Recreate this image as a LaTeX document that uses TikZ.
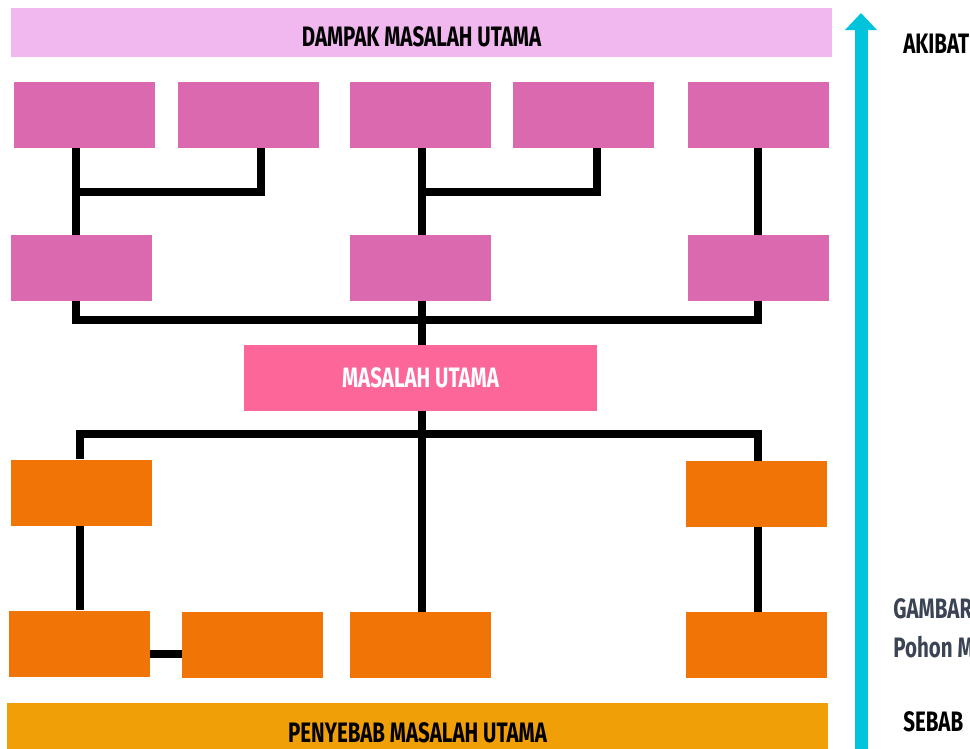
\documentclass[tikz,border=0pt]{standalone}
\usepackage{fontspec}
\setmainfont{Fira Sans}[FakeStretch=0.73]
\usetikzlibrary{arrows.meta}
\definecolor{dampakpink}{HTML}{F0B8EE}
\definecolor{akibatpink}{HTML}{DB69B0}
\definecolor{masalahpink}{HTML}{FD6699}
\definecolor{sebaboranye}{HTML}{F07406}
\definecolor{penyebabkuning}{HTML}{F0A006}
\definecolor{panahcyan}{HTML}{00C4DC}
\definecolor{teksabu}{HTML}{3B4455}
\tikzset{
  kotak/.style = {inner sep=0pt, minimum width=2.82cm, minimum height=1.32cm},
  akibat/.style = {kotak, fill=akibatpink},
  sebab/.style = {kotak, fill=sebaboranye},
  pita/.style = {inner sep=0pt, minimum width=16.42cm, font=\fontsize{16}{19}\selectfont\bfseries},
  link/.style = {line width=0.16cm},
  label/.style = {anchor=west, inner sep=0pt, font=\fontsize{16}{19}\selectfont\bfseries}
}

\begin{document}
\begin{tikzpicture}[x=0.02cm, y=-0.02cm]
\useasboundingbox (0,0) rectangle (970,748);
% pita atas dan bawah
\node [pita, fill=dampakpink, minimum height=0.98cm, text height=0.54cm, text depth=0pt] (dampak) at (421.5,32.5) {DAMPAK MASALAH UTAMA};
\node [pita, fill=penyebabkuning, minimum height=1.2cm, text depth=0pt] (penyebab) at (417.5,733) {PENYEBAB MASALAH UTAMA};
% akibat
\node [akibat] (a1) at (84.5,115) {};
\node [akibat] (a2) at (248.5,115) {};
\node [akibat] (a3) at (420.5,115) {};
\node [akibat] (a4) at (583.5,115) {};
\node [akibat] (a5) at (758.5,115) {};
\node [akibat] (b1) at (81.5,268) {};
\node [akibat] (b2) at (420.5,268) {};
\node [akibat] (b3) at (758.5,268) {};
% masalah utama
\node [kotak, fill=masalahpink, minimum width=7.06cm, text=white, text depth=0pt, font=\fontsize{16}{19}\selectfont\bfseries] (m) at (420.5,378) {MASALAH UTAMA};
% sebab
\node [sebab] (c1) at (81.5,492.5) {};
\node [sebab] (c2) at (756.5,494) {};
\node [sebab] (d1) at (79.5,643.5) {};
\node [sebab] (d2) at (252.5,645) {};
\node [sebab] (d3) at (420.5,645) {};
\node [sebab] (d4) at (756.5,645) {};
% titik sambungan
\coordinate (ka) at (76,192);
\coordinate (kb) at (261,192);
\coordinate (kc) at (422,192);
\coordinate (kd) at (597,192);
\coordinate (ke) at (422,320);
\coordinate (kf) at (80,434);
\coordinate (kg) at (758,434);
\coordinate (kh) at (166,654);
\draw [link] (a1.south -| ka) -- (b1.north -| ka);
\draw [link] (ka) -- (kb) -- (a2.south -| kb);
\draw [link] (a3.south -| kc) -- (b2.north -| kc);
\draw [link] (kc) -- (kd) -- (a4.south -| kd);
\draw [link] (a5.south -| kg) -- (b3.north -| kg);
\draw [link] (b1.south -| ka) |- (ke) -| (b3.south -| kg);
\draw [link] (b2.south -| ke) -- (m.north -| ke);
\draw [link] (m.south -| ke) -- (d3.north -| ke);
\draw [link] (c1.north -| kf) |- (kg) -- (c2.north -| kg);
\draw [link] (c1.south -| kf) -- (d1.north -| kf);
\draw [link] (c2.south -| kg) -- (d4.north -| kg);
\draw [link] (d1.east |- kh) -- (d2.west |- kh);
% panah sebab-akibat
\coordinate (pangkal) at (861,760);
\coordinate (ujung) at (861,13);
\draw [line width=0.26cm, panahcyan, -{Triangle[width=0.62cm, length=0.34cm]}] (pangkal) -- (ujung);
\node [label] (akibatteks) at (903,44) {AKIBAT};
\node [label, text=teksabu] (gambar) at (893,609) {GAMBAR};
\node [label, text=teksabu] (pohon) at (893,647) {Pohon M};
\node [label] (sebabteks) at (903,722) {SEBAB};
\end{tikzpicture}
\end{document}
